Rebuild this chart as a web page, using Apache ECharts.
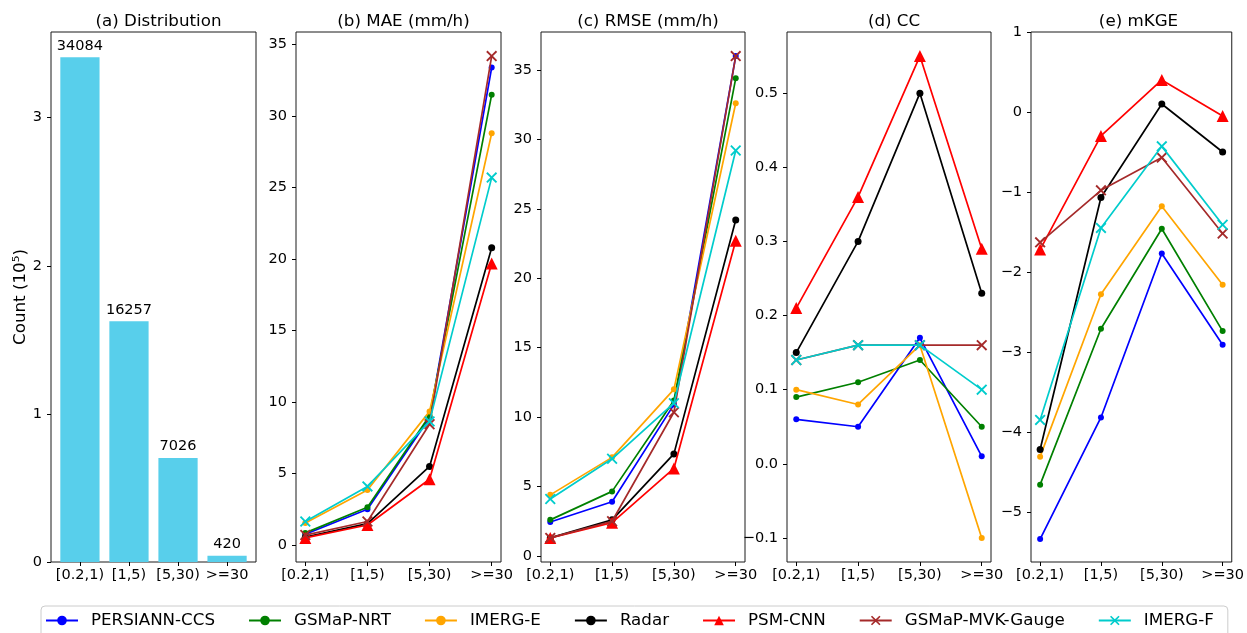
<!DOCTYPE html>
<html><head><meta charset="utf-8">
<script src="https://cdn.jsdelivr.net/npm/echarts@6/dist/echarts.min.js"></script>
<style>html,body{margin:0;padding:0;background:#fff}#c{width:1247px;height:633px}</style>
</head><body><div id="c"></div><script>
// ---------- data ----------
const categories = ['[0.2,1)', '[1,5)', '[5,30)', '>=30'];
const countValues = [3.4084, 1.6257, 0.7026, 0.0420];   // in 10^5
const countLabels = ['34084', '16257', '7026', '420'];
const models = ['PERSIANN-CCS', 'GSMaP-NRT', 'IMERG-E', 'Radar', 'PSM-CNN', 'GSMaP-MVK-Gauge', 'IMERG-F'];
const panelTitles = ['(a) Distribution', '(b) MAE (mm/h)', '(c) RMSE (mm/h)', '(d) CC', '(e) mKGE'];
const maeValues = [
  [0.75, 2.5, 8.9, 33.4],
  [0.85, 2.65, 9.05, 31.5],
  [1.55, 3.85, 9.35, 28.8],
  [0.55, 1.5, 5.5, 20.8],
  [0.5, 1.4, 4.6, 19.7],
  [0.7, 1.65, 8.45, 34.2],
  [1.65, 4.1, 8.65, 25.7]
];
const rmseValues = [
  [2.45, 3.9, 10.9, 36.0],
  [2.6, 4.65, 11.2, 34.4],
  [4.4, 7.1, 12.0, 32.6],
  [1.3, 2.6, 7.35, 24.2],
  [1.3, 2.4, 6.3, 22.7],
  [1.3, 2.5, 10.35, 36.0],
  [4.1, 7.0, 11.0, 29.2]
];
const ccValues = [
  [0.06, 0.05, 0.17, 0.01],
  [0.09, 0.11, 0.14, 0.05],
  [0.10, 0.08, 0.16, -0.10],
  [0.15, 0.30, 0.50, 0.23],
  [0.21, 0.36, 0.55, 0.29],
  [0.14, 0.16, 0.16, 0.16],
  [0.14, 0.16, 0.16, 0.10]
];
const mkgeValues = [
  [-5.34, -3.82, -1.77, -2.91],
  [-4.66, -2.71, -1.46, -2.74],
  [-4.31, -2.28, -1.18, -2.16],
  [-4.22, -1.07, 0.10, -0.50],
  [-1.72, -0.30, 0.40, -0.05],
  [-1.63, -0.98, -0.57, -1.52],
  [-3.85, -1.45, -0.43, -1.41]
];
const maeTicks = [0, 5, 10, 15, 20, 25, 30, 35];
const rmseTicks = [0, 5, 10, 15, 20, 25, 30, 35];
const ccTicks = [-0.1, 0.0, 0.1, 0.2, 0.3, 0.4, 0.5];
const mkgeTicks = [-5, -4, -3, -2, -1, 0, 1];
const countTicks = [0, 1, 2, 3];

// ---------- styles ----------
const FONT = 'DejaVu Sans';
const modelColors = ['#0000ff', '#008000', '#ffa500', '#000000', '#ff0000', '#a52a2a', '#00cccc'];
const XSYM = 'path://M0,1.2L1.2,0L5,3.8L8.8,0L10,1.2L6.2,5L10,8.8L8.8,10L5,6.2L1.2,10L0,8.8L3.8,5Z';
const modelSymbols = ['circle', 'circle', 'circle', 'circle', 'triangle', XSYM, XSYM];
const modelSymbolSizes = [6, 6, 6, 7, 12, 11, 11];
const gridLefts = [51, 296, 541, 787, 1031];
const gridWidths = [205, 205, 204, 204, 205];
const gridTop = 32, gridHeight = 530;

function minusFmt(s) { return String(s).replace('-', '\u2212'); }
function autoExtent(arrs, fixedMax) {
  const all = [].concat(...arrs);
  const lo = Math.min(...all), hi = Math.max(...all);
  const rr = hi - lo;
  return [lo - 0.05 * rr, fixedMax !== undefined ? fixedMax : hi + 0.05 * rr];
}

const chart = echarts.init(document.getElementById('c'), null, { renderer: 'canvas' });

const grids = [], xAxes = [], yAxes = [], series = [], titles = [];
const tickStyle = { show: true, length: 4, inside: false, lineStyle: { color: '#000', width: 1 } };
const labelStyle = { color: '#000', fontSize: 14.5, fontFamily: FONT };

for (let i = 0; i < 5; i++) {
  grids.push({ left: gridLefts[i], top: gridTop, width: gridWidths[i], height: gridHeight,
    show: true, borderColor: '#1a1a1a', borderWidth: 1, backgroundColor: 'transparent', containLabel: false });
  titles.push({ text: panelTitles[i], left: gridLefts[i] + gridWidths[i] / 2, top: 8, textAlign: 'center',
    textStyle: { fontSize: 16.7, fontWeight: 'normal', color: '#000', fontFamily: FONT } });
}

// panel (a) bars
const barXMin = -0.59, barXMax = 3.59;
xAxes.push({ type: 'value', gridIndex: 0, min: barXMin, max: barXMax,
  axisLine: { show: false, onZero: false }, splitLine: { show: false },
  axisTick: Object.assign({ customValues: [0, 1, 2, 3] }, tickStyle),
  axisLabel: Object.assign({ customValues: [0, 1, 2, 3], margin: 6, formatter: v => categories[Math.round(v)] }, labelStyle) });
yAxes.push({ type: 'value', gridIndex: 0, min: 0, max: Math.max(...countValues) * 1.05,
  axisLine: { show: false, onZero: false }, splitLine: { show: false },
  axisTick: Object.assign({ customValues: countTicks }, tickStyle),
  axisLabel: Object.assign({ customValues: countTicks, margin: 9, formatter: v => String(v) }, labelStyle),
  name: 'Count (10\u2075)', nameLocation: 'middle', nameGap: 21,
  nameTextStyle: { fontSize: 16.7, color: '#000', fontFamily: FONT } });
series.push({ type: 'bar', name: 'Distribution', xAxisIndex: 0, yAxisIndex: 0,
  barWidth: 0.8 * gridWidths[0] / (barXMax - barXMin),
  data: countValues.map((v, k) => [k, v]),
  itemStyle: { color: '#58cfeb' },
  label: { show: true, position: 'top', distance: 4, formatter: p => countLabels[p.dataIndex],
    fontSize: 14.5, color: '#000', fontFamily: FONT } });

// line panels
const metricSets = [
  { data: maeValues, ticks: maeTicks, fmt: v => String(v) },
  { data: rmseValues, ticks: rmseTicks, fmt: v => String(v) },
  { data: ccValues, ticks: ccTicks, fmt: v => minusFmt(v.toFixed(1)) },
  { data: mkgeValues, ticks: mkgeTicks, fmt: v => minusFmt(String(v)), fixedMax: 1 }
];
metricSets.forEach((m, j) => {
  const gi = j + 1;
  const ext = autoExtent(m.data, m.fixedMax);
  xAxes.push({ type: 'value', gridIndex: gi, min: -0.15, max: 3.15,
    axisLine: { show: false, onZero: false }, splitLine: { show: false },
    axisTick: Object.assign({ customValues: [0, 1, 2, 3] }, tickStyle),
    axisLabel: Object.assign({ customValues: [0, 1, 2, 3], margin: 6, formatter: v => categories[Math.round(v)] }, labelStyle) });
  yAxes.push({ type: 'value', gridIndex: gi, min: ext[0], max: ext[1],
    axisLine: { show: false, onZero: false }, splitLine: { show: false },
    axisTick: Object.assign({ customValues: m.ticks }, tickStyle),
    axisLabel: Object.assign({ customValues: m.ticks, margin: 9, formatter: m.fmt }, labelStyle) });
  m.data.forEach((vals, k) => {
    series.push({ type: 'line', name: models[k], xAxisIndex: gi, yAxisIndex: gi,
      data: vals.map((v, c) => [c, v]),
      symbol: modelSymbols[k], symbolSize: modelSymbolSizes[k], showAllSymbol: true,
      lineStyle: { color: modelColors[k], width: 1.7 },
      itemStyle: { color: modelColors[k], borderWidth: 0 },
      emphasis: { disabled: true }, animation: false, clip: false, z: 2 + k * 0.01 });
  });
});

chart.setOption({
  animation: false,
  backgroundColor: '#fff',
  title: titles,
  grid: grids,
  xAxis: xAxes,
  yAxis: yAxes,
  series: series,
  legend: {
    data: models, left: 41, top: 606, orient: 'horizontal',
    itemWidth: 32, itemHeight: 12, itemGap: 33,
    textStyle: { fontSize: 16.7, fontFamily: FONT, color: '#000', padding: [0, 0, 0, 8] },
    borderColor: '#cccccc', borderWidth: 1, borderRadius: 4, padding: [6, 14, 12, 4],
    backgroundColor: '#fff'
  }
});
</script></body></html>
